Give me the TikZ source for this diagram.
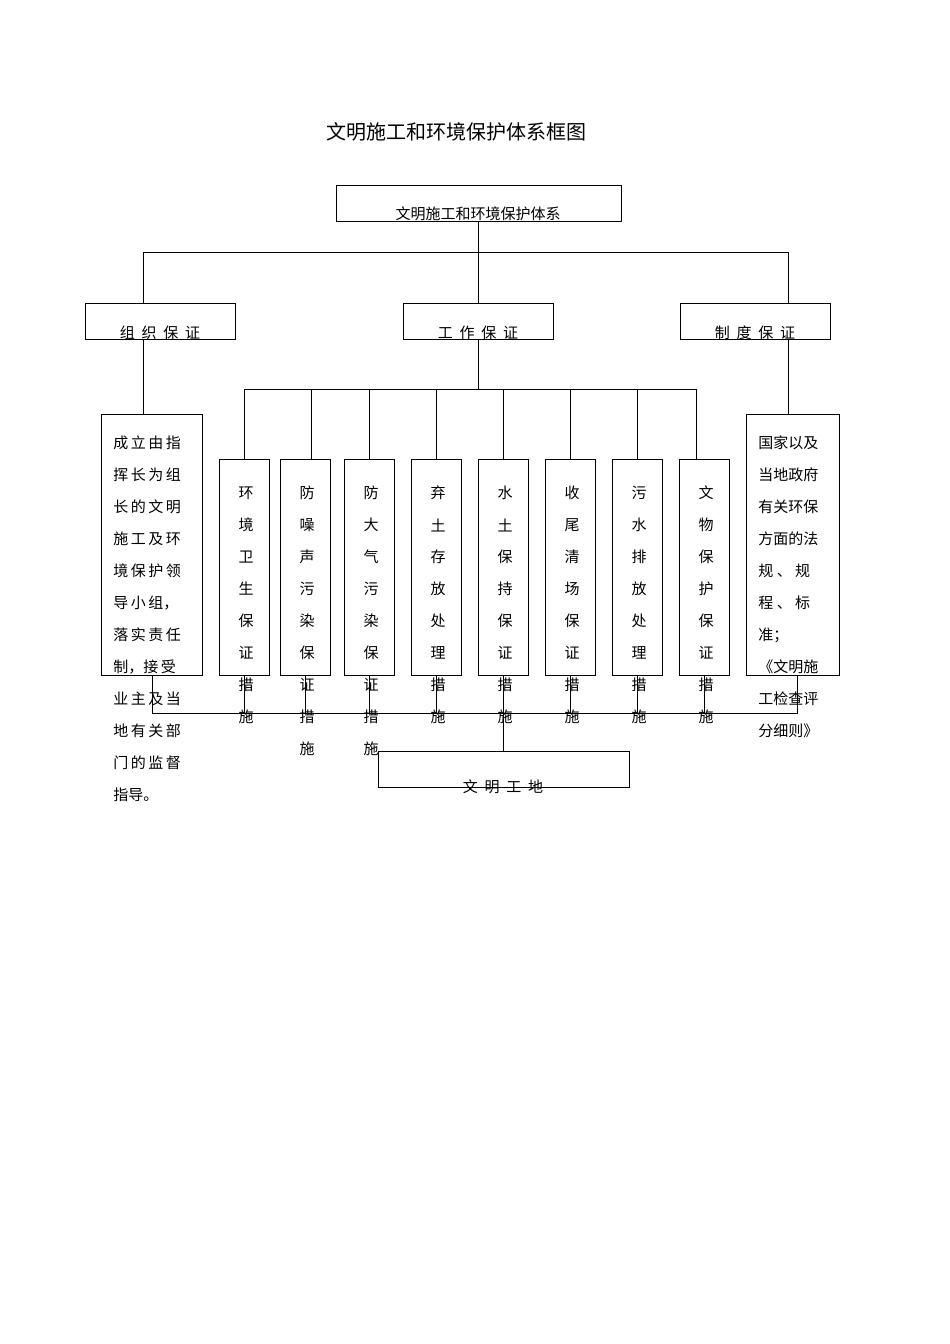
\documentclass[tikz,border=0pt]{standalone}
\usepackage{fontspec}
\setmainfont{Noto Sans CJK SC}
\begin{document}
\begin{tikzpicture}[x=1pt,y=-1pt,line width=0.8pt,
 box/.style={draw},
 t/.style={font=\fontsize{15}{15}\selectfont,inner sep=0pt}]
\useasboundingbox (0,0) rectangle (950,1344);
\node[t,font=\fontsize{20}{20}\selectfont] (title) at (456,132) {文明施工和环境保护体系框图};
\draw[box] (336,185) rectangle (621,221);
\node[t] (top) at (478,214) {文明施工和环境保护体系};
\draw[box] (85,303) rectangle (235,339); \node[t] (zz) at (160,333) {组\ \ 织\ \ 保\ \ 证};
\draw[box] (403,303) rectangle (553,339); \node[t] (gz) at (478,333) {工\ \ 作\ \ 保\ \ 证};
\draw[box] (680,303) rectangle (830,339); \node[t] (zd) at (755,333) {制\ \ 度\ \ 保\ \ 证};
\draw (478,221)--(478,303) (143,303)--(143,252)--(788,252)--(788,303);
\draw (143,339)--(143,414) (788,339)--(788,414) (478,339)--(478,389) (244,389)--(696,389);
\draw[box] (101,414) rectangle (202,675);
\draw[box] (746,414) rectangle (839,675);
\foreach \s [count=\i from 0] in {成\,立\,由\,指,挥\,长\,为\,组,长\,的\,文\,明,施\,工\,及\,环,境\,保\,护\,领,导\,小\,组，,落\,实\,责\,任,制，接\,受,业\,主\,及\,当,地\,有\,关\,部,门\,的\,监\,督,指导。}
  \node[t,anchor=west] (l\i) at (113,443+32*\i) {\s};
\foreach \s [count=\i from 0] in {国家以及,当地政府,有关环保,方面的法,规\ 、\ 规,程\ 、\ 标,准；,《文明施,工检查评,分细则》}
  \node[t,anchor=west] (r\i) at (758,443+32*\i) {\s};
\foreach \x/\lx/\s [count=\k] in {{244/244/环,境,卫,生,保,证,措,施},{305/311/防,噪,声,污,染,保,证,措,施},{369/369/防,大,气,污,染,保,证,措,施},{436/436/弃,土,存,放,处,理,措,施},{503/503/水,土,保,持,保,证,措,施},{570/570/收,尾,清,场,保,证,措,施},{637/637/污,水,排,放,处,理,措,施},{704/696/文,物,保,护,保,证,措,施}}{
  \draw (\lx,389)--(\lx,459);
  \draw[box] (\x-25,459) rectangle (\x+25,675);
  \draw (\x,675)--(\x,713);
  \foreach \c [count=\j from 0] in \s
    \node[t] (c\k-\j) at (\x+2,493+32*\j) {\c};
}
\draw (152,675)--(152,713)--(797,713)--(797,675) (503,713)--(503,751);
\draw[box] (378,751) rectangle (629,787);
\node[t] (wm) at (503,787) {文\ \ 明\ \ 工\ \ 地};
\end{tikzpicture}
\end{document}
